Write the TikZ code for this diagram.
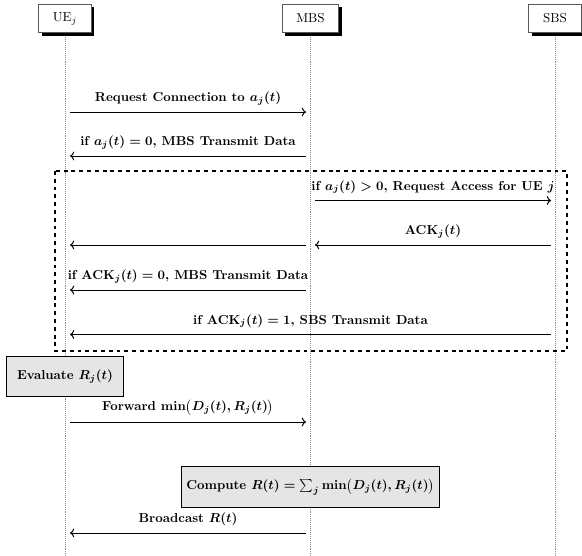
\documentclass[tikz,border=0pt]{standalone}
\usetikzlibrary{shadows,arrows.meta}
\begin{document}
\begin{tikzpicture}[x=0.77pt,y=-0.77pt,
  actor/.style={draw=black!65,line width=0.7pt,fill=white,minimum height=22pt,inner xsep=11pt,
    drop shadow={shadow xshift=2.3pt,shadow yshift=-2.3pt,fill=black,opacity=1}},
  life/.style={densely dotted,black!45,line width=0.5pt},
  msg/.style={->,line width=0.75pt},
  lbl/.style={above,yshift=1.5pt,font=\bfseries\boldmath},
  procbox/.style={draw,line width=0.9pt,fill=black!10,font=\bfseries\boldmath,minimum height=31pt},
  grp/.style={dashed,line width=0.9pt}]
\useasboundingbox (0,0) rectangle (582,556);
% actors
\node[actor] (ue) at (65,18.5) {UE$_j$};
\node[actor] (mbs) at (310.5,18.5) {MBS};
\node[actor] (sbs) at (555,18.5) {SBS};
\coordinate (bot) at (0,556);
\draw[life] ([yshift=-3pt]ue.south) -- (ue |- bot);
\draw[life] ([yshift=-3pt]mbs.south) -- (mbs |- bot);
\draw[life] ([yshift=-3pt]sbs.south) -- (sbs |- bot);
% group box
\draw[grp] (55,171) rectangle (567,351);
% message end points
\coordinate (u1) at (70,112);   \coordinate (m1) at (306,112);
\coordinate (m2) at (306,156);  \coordinate (u2) at (70,156);
\coordinate (m3) at (315,200.5);\coordinate (s3) at (551,200.5);
\coordinate (s4) at (551,245);  \coordinate (m4) at (315,245);
\coordinate (m4b) at (306,245); \coordinate (u4) at (70,245);
\coordinate (m5) at (306,290);  \coordinate (u5) at (70,290);
\coordinate (s6) at (551,334.5);\coordinate (u6) at (70,334.5);
\coordinate (u7) at (70,422);   \coordinate (m7) at (306,422);
\coordinate (m8) at (306,533);  \coordinate (u8) at (70,533);
% messages
\draw[msg] (u1) -- node[lbl]{Request Connection to $a_j(t)$} (m1);
\draw[msg] (m2) -- node[lbl]{if $a_j(t)=0$, MBS Transmit Data} (u2);
\draw[msg] (m3) -- node[lbl]{if $a_j(t)>0$, Request Access for UE $j$} (s3);
\draw[msg] (s4) -- node[lbl]{ACK$_j(t)$} (m4);
\draw[msg] (m4b) -- (u4);
\draw[msg] (m5) -- node[lbl]{if ACK$_j(t)=0$, MBS Transmit Data} (u5);
\draw[msg] (s6) -- node[lbl]{if ACK$_j(t)=1$, SBS Transmit Data} (u6);
\node[procbox,inner xsep=8pt] (eval) at (65,376.5) {Evaluate $R_j(t)$};
\draw[msg] (u7) -- node[lbl]{Forward $\min\bigl(D_j(t),R_j(t)\bigr)$} (m7);
\node[procbox,inner xsep=4pt] (comp) at (310.5,487) {Compute $R(t)=\sum_j\min\bigl(D_j(t),R_j(t)\bigr)$};
\draw[msg] (m8) -- node[lbl]{Broadcast $R(t)$} (u8);
\end{tikzpicture}
\end{document}
